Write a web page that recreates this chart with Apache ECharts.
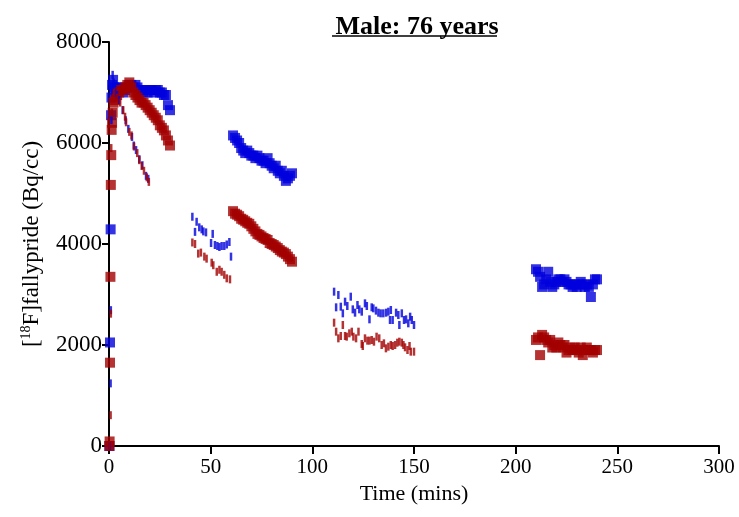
<!DOCTYPE html>
<html><head><meta charset="utf-8">
<script src="https://cdn.jsdelivr.net/npm/echarts@6/dist/echarts.min.js"></script>
<style>html,body{margin:0;padding:0;background:#fff}#c{width:739px;height:517px}</style>
</head><body><div id="c"></div><script>
// ---- data ----
var titleText = 'Male: 76 years';
var xTicks = [0, 50, 100, 150, 200, 250, 300];
var yTicks = [0, 2000, 4000, 6000, 8000];

// squares (blue)
var blueSqT1 = [0.2,0.5,0.8,1.0,1.2,1.5,2.0,2.5,3,4,5,6,7,8,9,10,11,12,13,14,15,16,17,18,19,20,21,22,23,24,25,26,27,28,29,30];
var blueSqV1 = [0,2050,4290,6550,6900,7150,7250,7100,7050,7100,7100,7050,7000,7050,7100,7150,7150,7100,7150,7100,7050,7050,7000,7050,7000,7050,7050,7000,7050,7050,7000,7000,6950,6950,6750,6650];
var blueSqT2 = [61,62,63,64,65,66,67,68,69,70,71,72,73,74,75,76,77,78,79,80,81,82,83,84,85,86,87,88,89,90];
var blueSqV2 = [6150,6100,6050,6000,5900,5850,5800,5850,5800,5750,5750,5700,5750,5700,5650,5650,5600,5700,5600,5550,5500,5550,5450,5400,5450,5350,5250,5300,5350,5400];
var blueSqT3 = [210,211,212,213,214,215,216,217,218,219,220,221,222,223,224,225,226,227,228,229,230,231,232,233,234,235,236,237,238,239,240];
var blueSqV3 = [3500,3450,3350,3150,3200,3300,3450,3250,3150,3200,3250,3300,3300,3250,3300,3250,3200,3200,3150,3200,3150,3200,3250,3200,3150,3200,3150,2950,3200,3300,3300];

// squares (red)
var redSqT1 = [0.2,0.3,0.5,0.7,0.9,1.1,1.3,1.5,1.8,2.2,3,4,5,6,7,8,9,10,11,12,13,14,15,16,17,18,19,20,21,22,23,24,25,26,27,28,29,30];
var redSqV1 = [0,90,1650,3350,5170,5760,6260,6400,6600,6800,6850,6950,7000,7050,7050,7100,7150,7200,7100,7000,6950,6900,6850,6800,6800,6750,6700,6650,6600,6550,6500,6450,6350,6300,6250,6150,6050,5950];
var redSqT2 = blueSqT2;
var redSqV2 = [4650,4600,4580,4550,4500,4480,4450,4420,4400,4350,4300,4250,4200,4180,4150,4120,4100,4080,4020,4000,3980,3950,3920,3880,3850,3830,3800,3750,3700,3650];
var redSqT3 = blueSqT3;
var redSqV3 = [2100,2150,1800,2200,2150,2100,2050,2100,1950,2000,1950,2050,2000,1950,2000,1850,1900,1950,1900,1950,1900,1850,1950,1800,1900,1950,1900,1900,1850,1900,1900];

// dashes (blue)
var blueDaT1 = [0.3,0.8,0.9,1.2,1.5,1.8,2.2,3,4,5,6.7,8.2,9.5,11.3,12.2,13.3,14.9,16.4,18.2,19.3];
var blueDaV1 = [0,1240,2690,6450,7000,7350,7200,7000,6950,6850,6650,6450,6280,6120,5950,5860,5680,5560,5350,5290];
var blueDaT2 = [41.0,42.3,43.1,44.4,45.6,46.4,47.7,50.2,51.0,52.1,53.3,54.3,55.4,56.7,57.9,59.2,60.0];
var blueDaV2 = [4540,4240,4440,4330,4290,4250,4230,4020,4200,3980,3960,3940,3960,3960,3990,4040,3750];
var blueDaT3 = [110.7,111.7,112.8,114,115,116.1,117.2,118.9,119.9,121,122.2,123.1,124.3,125.9,126.8,128.1,129.2,130,131.3,132.5,133.6,134.9,136.3,137.4,138.2,138.6,139.5,141.2,142.3,142.8,144,145.1,146.1,147.2,148.1,148.9,150];
var blueDaV3 = [3056,2746,2990,2759,2627,2858,2772,2957,2706,2640,2792,2706,2660,2825,2772,2508,2746,2726,2680,2640,2627,2627,2640,2660,2495,2693,2495,2640,2594,2396,2627,2495,2508,2429,2561,2495,2396];

// dashes (red)
var redDaT1 = [0.2,0.8,0.9,1.1,1.4,1.8,2.5,4,5.5,7,7.9,8.4,10,11.1,12.3,13.9,14.9,16.1,17.2,18.6,19.6];
var redDaV1 = [0,610,2620,5900,6600,6900,7000,6900,6800,6650,6520,6410,6220,6150,5930,5800,5660,5545,5450,5320,5230];
var redDaT2 = [41.0,42.3,43.9,45.2,46.9,48.0,50.5,51.3,53.0,54.3,55.4,56.7,57.9,59.5];
var redDaV2 = [4030,4000,3810,3830,3750,3710,3630,3580,3450,3490,3450,3390,3320,3300];
var redDaT3 = [110.7,111.7,112.8,114,115,116.1,116.9,118.2,119.4,120.2,121.5,122.7,124.3,124.8,125.9,127.1,128.1,129.2,130.3,131.6,132.9,134.1,135.2,136.2,137.4,138.6,139.5,140.7,141.8,142.8,144,144.8,145.6,146.8,147.8,148.4,150];
var redDaV3 = [2442,2264,2132,2178,2396,2178,2165,2231,2264,2165,2132,2264,2020,1980,2132,2086,2086,2099,2066,2165,2132,2000,2033,1934,1967,2000,1980,2000,2046,2066,2046,2000,1954,1901,1980,1868,1868];

// ---- build ----
function pairs(ts, vs) { return ts.map(function (t, i) { return [t, vs[i]]; }); }
var BLUE = '#0000dd', RED = '#a30000';
var FONT = '"Liberation Serif","Times New Roman",serif';

var blueSq = [].concat(pairs(blueSqT1, blueSqV1), pairs(blueSqT2, blueSqV2), pairs(blueSqT3, blueSqV3));
var redSq = [].concat(pairs(redSqT1, redSqV1), pairs(redSqT2, redSqV2), pairs(redSqT3, redSqV3));
var blueDa = [].concat(pairs(blueDaT1, blueDaV1), pairs(blueDaT2, blueDaV2), pairs(blueDaT3, blueDaV3));
var redDa = [].concat(pairs(redDaT1, redDaV1), pairs(redDaT2, redDaV2), pairs(redDaT3, redDaV3));

var chart = echarts.init(document.getElementById('c'), null, {renderer: 'canvas'});
var axisLine = {show: true, onZero: false, lineStyle: {color: '#000', width: 2}};
chart.setOption({
  animation: false,
  backgroundColor: '#fff',
  title: {
    text: titleText, left: 412, top: 9, textAlign: 'center',
    textStyle: {fontFamily: FONT, fontWeight: 'bold', fontSize: 26, color: '#000'}
  },
  graphic: [{
    type: 'line', shape: {x1: 332, y1: 36, x2: 497, y2: 36},
    style: {stroke: '#000', lineWidth: 1.5}
  }],
  grid: {left: 109, right: 20, top: 42, bottom: 71, containLabel: false},
  xAxis: {
    type: 'value', min: xTicks[0], max: xTicks[xTicks.length - 1], interval: 50,
    name: 'Time (mins)', nameLocation: 'middle', nameGap: 36,
    nameTextStyle: {fontFamily: FONT, fontSize: 22, color: '#000'},
    axisLine: axisLine,
    axisTick: {show: true, inside: false, length: 8, lineStyle: {color: '#000', width: 2}},
    axisLabel: {fontFamily: FONT, fontSize: 21, color: '#000', margin: 11,
      formatter: function (v) { return String(v); }},
    splitLine: {show: false}
  },
  yAxis: {
    type: 'value', min: yTicks[0], max: yTicks[yTicks.length - 1], interval: 2000,
    name: '{b|[}{s|18}{b|F]fallypride (Bq/cc)}', nameLocation: 'middle', nameGap: 64, nameRotate: 90,
    nameTextStyle: {
      fontFamily: FONT, fontSize: 23, color: '#000',
      rich: {
        b: {fontFamily: FONT, fontSize: 23, color: '#000', lineHeight: 26},
        s: {fontFamily: FONT, fontSize: 14, color: '#000', verticalAlign: 'top', lineHeight: 26}
      }
    },
    axisLine: axisLine,
    axisTick: {show: true, inside: false, length: 7, lineStyle: {color: '#000', width: 2}},
    axisLabel: {fontFamily: FONT, fontSize: 23, color: '#000', margin: 7,
      formatter: function (v) { return String(v); }},
    splitLine: {show: false}
  },
  series: [
    {type: 'scatter', name: 'blueSq', data: blueSq, symbol: 'rect', symbolSize: 10, clip: false,
     itemStyle: {color: BLUE}, z: 2},
    {type: 'scatter', name: 'redSq', data: redSq, symbol: 'rect', symbolSize: 10, clip: false,
     itemStyle: {color: RED}, z: 3},
    {type: 'scatter', name: 'blueDa', data: blueDa, symbol: 'rect', symbolSize: [2.5, 8], clip: false,
     itemStyle: {color: BLUE}, z: 4},
    {type: 'scatter', name: 'redDa', data: redDa, symbol: 'rect', symbolSize: [2.5, 8], clip: false,
     itemStyle: {color: RED}, z: 4}
  ]
});
</script></body></html>
